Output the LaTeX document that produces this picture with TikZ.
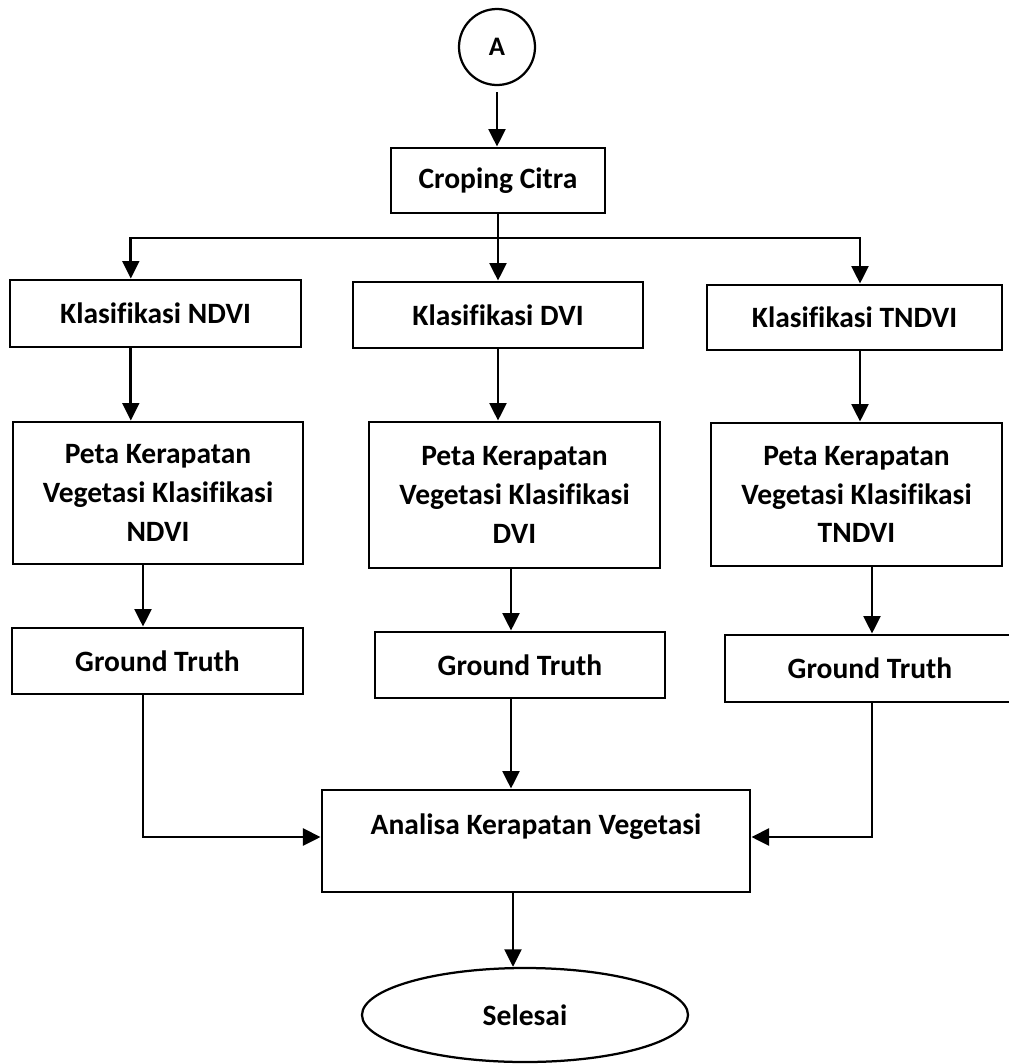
\documentclass[tikz,border=0pt]{standalone}
\usepackage{fontspec}
\setmainfont{Carlito}[Ligatures=CommonOff]
\usepackage{tikz}
\usetikzlibrary{arrows.meta,calc,positioning,shapes.geometric}

\begin{document}
\begin{tikzpicture}[>={Triangle[length=4.4mm,width=4.2mm]},line join=miter,
  font=\fontsize{21}{27.5}\selectfont\bfseries,
  kotak/.style={draw,line width=2pt,rectangle,inner sep=0pt,align=center},
  arr/.style={->,line width=2pt},
  garis/.style={line width=2pt}]
\path[use as bounding box] (0,0) rectangle (25.225,-26.6);
\fill[white] (0,0) rectangle (25.225,-26.6);
\begin{scope}
\clip (0,0) rectangle (25.225,-26.6);
% awal dan croping
\node[draw,circle,line width=1.6pt,minimum size=1.9cm,inner sep=0pt,font=\fontsize{19}{22}\selectfont\bfseries] (A) at (12.425,-1.175) {A};
\node[kotak,minimum width=5.35cm,minimum height=1.625cm] (crop) at (12.45,-4.5125) {Croping Citra};
% klasifikasi
\node[kotak,minimum width=7.275cm,minimum height=1.675cm] (kndvi) at (3.8875,-7.8375) {Klasifikasi NDVI};
\node[kotak,minimum width=7.25cm,minimum height=1.65cm] (kdvi) at (12.45,-7.875) {Klasifikasi DVI};
\node[kotak,minimum width=7.375cm,minimum height=1.625cm] (ktndvi) at (21.3625,-7.9375) {Klasifikasi TNDVI};
% peta kerapatan
\node[kotak,minimum width=7.25cm,minimum height=3.55cm] (pndvi) at (3.95,-12.325) {Peta Kerapatan\\Vegetasi Klasifikasi\\NDVI};
\node[kotak,minimum width=7.275cm,minimum height=3.65cm] (pdvi) at (12.8625,-12.375) {Peta Kerapatan\\Vegetasi Klasifikasi\\DVI};
\node[kotak,minimum width=7.275cm,minimum height=3.575cm] (ptndvi) at (21.4125,-12.3625) {Peta Kerapatan\\Vegetasi Klasifikasi\\TNDVI};
% ground truth
\node[kotak,minimum width=7.275cm,minimum height=1.65cm] (gndvi) at (3.9375,-16.525) {Ground Truth};
\node[kotak,minimum width=7.25cm,minimum height=1.65cm] (gdvi) at (13.0,-16.625) {Ground Truth};
\node[kotak,minimum width=7.25cm,minimum height=1.675cm] (gtndvi) at (21.75,-16.7125) {Ground Truth};
% analisa dan selesai
\node[kotak,minimum width=10.7cm,text height=1.11cm,text depth=1.44cm] (ana) at (13.4,-21.025) {Analisa Kerapatan Vegetasi};
\node[draw,ellipse,line width=1.6pt,minimum width=8.15cm,minimum height=2.35cm,inner sep=0pt] (sel) at (13.125,-25.375) {Selesai};
% titik belok
\coordinate (bl) at (3.27,-5.95);
\coordinate (brr) at (21.5,-5.95);
\coordinate (tengah) at (12.775,-5.95);
\coordinate (cl) at (3.575,-20.925);
\coordinate (cr) at (21.8,-20.925);
\coordinate (dn) at (12.825,-23);
% panah
\draw[arr,shorten <=0.15cm] (A.south) -- (A.south |- crop.north);
\draw[arr] (crop.south) -- (crop.south |- kdvi.north);
\draw[arr] (crop.south |- bl) -| (bl |- kndvi.north);
\draw[arr] (crop.south |- brr) -| (brr |- ktndvi.north);
\draw[arr] (kndvi.south -| bl) -- (pndvi.north -| bl);
\draw[arr] (kdvi.south) -- (kdvi.south |- pdvi.north);
\draw[arr] (ktndvi.south -| brr) -- (ptndvi.north -| brr);
\draw[arr] (pndvi.south -| cl) -- (gndvi.north -| cl);
\draw[arr] (pdvi.south -| tengah) -- (gdvi.north -| tengah);
\draw[arr] (ptndvi.south -| cr) -- (gtndvi.north -| cr);
\draw[arr] (gndvi.south -| cl) -- (cl) -- (cl -| ana.west);
\draw[arr] (gdvi.south -| tengah) -- (ana.north -| tengah);
\draw[arr] (gtndvi.south -| cr) -- (cr) -- (cr -| ana.east);
\draw[arr] (ana.south -| dn) -- (sel.north -| dn);
\end{scope}
\end{tikzpicture}
\end{document}
